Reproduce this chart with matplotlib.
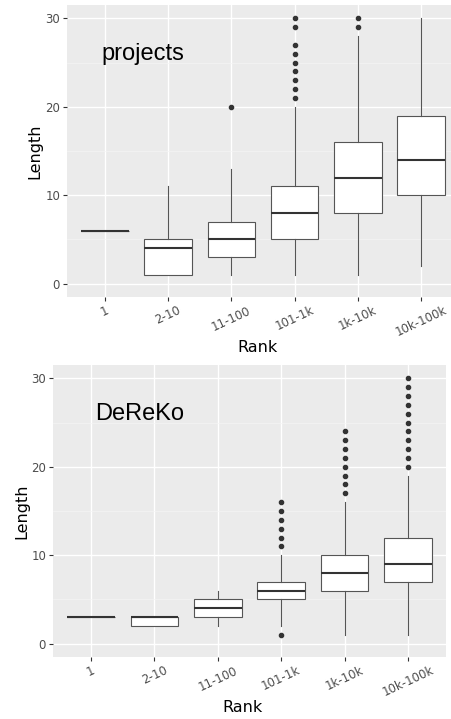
import matplotlib.pyplot as plt

ranks = ['1', '2-10', '11-100', '101-1k', '1k-10k', '10k-100k']

# projects panel: box stats
proj_lo = [6, 1, 1, 1, 1, 2]
proj_q1 = [6, 1, 3, 5, 8, 10]
proj_med = [6, 4, 5, 8, 12, 14]
proj_q3 = [6, 5, 7, 11, 16, 19]
proj_hi = [6, 11, 13, 20, 28, 30]
proj_out = [[], [], [20], [21, 22, 23, 24, 25, 26, 27, 29, 30], [29, 30], []]

# DeReKo panel
der_lo = [3, 2, 2, 2, 1, 1]
der_q1 = [3, 2, 3, 5, 6, 7]
der_med = [3, 3, 4, 6, 8, 9]
der_q3 = [3, 3, 5, 7, 10, 12]
der_hi = [3, 3, 6, 10, 16, 19]
der_out = [[], [], [], [1, 11, 12, 13, 14, 15, 16],
           [17, 18, 19, 20, 21, 22, 23, 24],
           [20, 21, 22, 23, 24, 25, 26, 27, 28, 29, 30]]

BG = '#EBEBEB'
LINE = '#333333'


def panel(ax, lo, q1, med, q3, hi, out, title, tx, ty, lab_x, ylab_x):
    stats = []
    for i in range(len(ranks)):
        stats.append(dict(whislo=lo[i], q1=q1[i], med=med[i], q3=q3[i],
                          whishi=hi[i], fliers=out[i]))
    ax.set_facecolor(BG)
    ax.set_axisbelow(True)
    ax.bxp(stats, positions=range(1, 7), widths=0.75, patch_artist=True,
           showcaps=False,
           boxprops=dict(facecolor='white', edgecolor='#555555', linewidth=0.8),
           medianprops=dict(color=LINE, linewidth=1.5),
           whiskerprops=dict(color='#555555', linewidth=0.8),
           flierprops=dict(marker='o', markersize=3, markerfacecolor=LINE,
                           markeredgecolor=LINE))
    ax.set_xlim(0.4, 6.6)
    ax.set_ylim(-1.5, 31.5)
    ax.set_yticks([0, 10, 20, 30])
    ax.set_yticks([5, 15, 25], minor=True)
    ax.set_xticks(range(1, 7))
    ax.set_xticklabels(ranks, rotation=25, ha='center', va='top')
    ax.grid(True, which='major', color='white', linewidth=1.0)
    ax.grid(True, which='minor', axis='y', color='#F5F5F5', linewidth=0.5)
    for s in ax.spines.values():
        s.set_visible(False)
    ax.tick_params(which='major', length=3, color=LINE, labelcolor='#4D4D4D',
                   labelsize=8.5, pad=2)
    ax.tick_params(which='minor', length=0)
    ax.set_xlabel('Rank', fontsize=11.5)
    ax.set_ylabel('Length', fontsize=11.5)
    ax.xaxis.set_label_coords(lab_x, -0.173)
    ax.xaxis.label.set_va('center')
    ax.yaxis.set_label_coords(ylab_x, 0.5)
    ax.yaxis.label.set_va('center')
    ax.text(tx, ty, title, fontsize=17, family='Liberation Sans',
            ha='left', va='center')


fig = plt.figure(figsize=(4.52, 7.19), dpi=100)
ax1 = fig.add_axes([67 / 452, 1 - 297 / 719, 392 / 452, 292 / 719])
ax2 = fig.add_axes([53 / 452, 1 - 657 / 719, 393 / 452, 292 / 719])

panel(ax1, proj_lo, proj_q1, proj_med, proj_q3, proj_hi, proj_out,
      'projects', 0.95, 26.0, 0.485, -0.082)
panel(ax2, der_lo, der_q1, der_med, der_q3, der_hi, der_out,
      'DeReKo', 1.06, 26.0, 0.483, -0.079)

fig.savefig('out.png', dpi=100)
